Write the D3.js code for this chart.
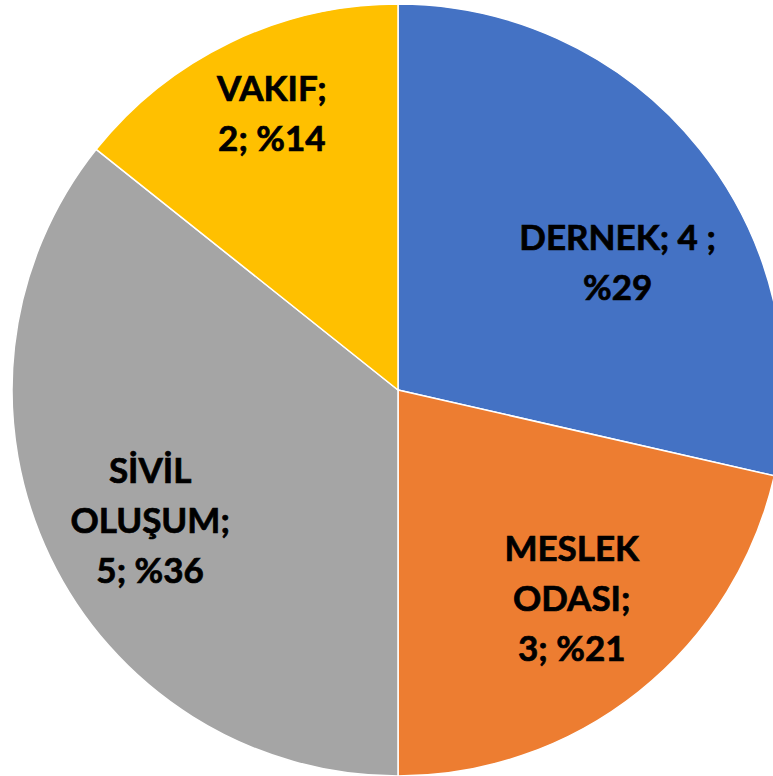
<!DOCTYPE html>
<html>
<head>
<meta charset="utf-8">
<script src="https://cdn.jsdelivr.net/npm/d3@7"></script>
<style>
 html, body { margin: 0; padding: 0; background: #fff; overflow: hidden; }
 text { font-family: Lato, "Liberation Sans", sans-serif; font-weight: 700; }
</style>
</head>
<body>
<div id="chart"></div>
<script>
// chart data
const categories = ["DERNEK", "MESLEK ODASI", "SİVİL OLUŞUM", "VAKIF"];
const values = [4, 3, 5, 2];
const percents = ["%29", "%21", "%36", "%14"];
// how Excel broke each label into lines
const labelLines = [
 ["DERNEK; 4 ;", "%29"],
 ["MESLEK", "ODASI;", "3; %21"],
 ["SİVİL", "OLUŞUM;", "5; %36"],
 ["VAKIF;", "2; %14"]
];
const colors = ["#4472C4", "#ED7D31", "#A5A5A5", "#FFC000"];

const width = 773, height = 776;
const cx = 398, cy = 390, radius = 386;
// label distance from centre, per slice (best-fit placement)
const labelRadius = [254, 271, 280, 304];
const labelNudge = [8.4, -1.3, -2, 1.2]; // degrees

const svg = d3.select("#chart").append("svg")
 .attr("width", width)
 .attr("height", height);

const g = svg.append("g").attr("transform", `translate(${cx},${cy})`);

const pie = d3.pie().sort(null).value(d => d);
const arcs = pie(values);

const arc = d3.arc().innerRadius(0).outerRadius(radius);

g.selectAll("path")
 .data(arcs)
 .enter().append("path")
 .attr("d", arc)
 .attr("fill", (d, i) => colors[i])
 .attr("stroke", "#fff")
 .attr("stroke-width", 1.5);

const lineH = 50;
const labels = g.selectAll("g.label")
 .data(arcs)
 .enter().append("g")
 .attr("class", "label")
 .attr("transform", (d, i) => {
   const a = (d.startAngle + d.endAngle) / 2 + labelNudge[i] * Math.PI / 180;
   const r = labelRadius[i];
   return `translate(${Math.sin(a) * r},${-Math.cos(a) * r})`;
 });

labels.each(function(d, i) {
 const lines = labelLines[i];
 const t = d3.select(this).append("text")
   .attr("text-anchor", "middle")
   .attr("font-size", 35)
   .attr("fill", "#000")
   .attr("stroke", "#000")
   .attr("stroke-width", 0.7);
 lines.forEach((s, k) => {
   t.append("tspan")
     .attr("x", 0)
     .attr("y", (k - (lines.length - 1) / 2) * lineH)
     .attr("dy", "0.36em")
     .text(s);
 });
});
</script>
</body>
</html>
